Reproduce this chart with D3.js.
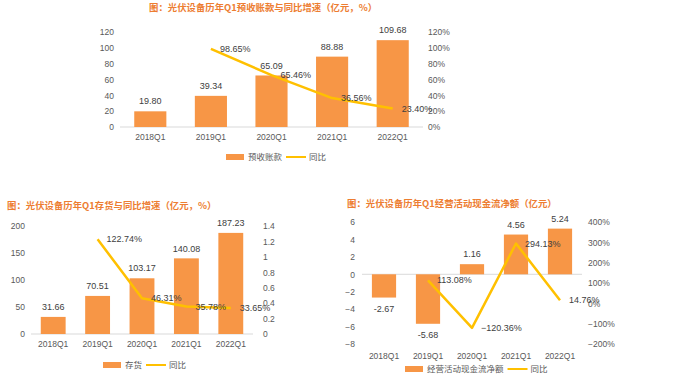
<!DOCTYPE html>
<html>
<head>
<meta charset="utf-8">
<script src="https://cdn.jsdelivr.net/npm/d3@7"></script>
<style>
  body { margin: 0; background: #fff; }
  svg { display: block; }
  text { font-family: "Liberation Sans", "Noto Sans CJK SC", sans-serif; }
</style>
</head>
<body>
<svg id="chart" width="700" height="378"></svg>
<script>
// data
var years = ["2018Q1", "2019Q1", "2020Q1", "2021Q1", "2022Q1"];

var advance = [19.80, 39.34, 65.09, 88.88, 109.68];
var advanceYoy = [null, 0.9865, 0.6546, 0.3656, 0.2340];

var stock = [31.66, 70.51, 103.17, 140.08, 187.23];
var stockYoy = [null, 1.2274, 0.4631, 0.3578, 0.3365];

var cash = [-2.67, -5.68, 1.16, 4.56, 5.24];
var cashYoy = [null, 1.1308, -1.2036, 2.9413, 0.1476];

var advanceTicks = [0, 20, 40, 60, 80, 100, 120];
var advanceYoyTicks = [0, 0.2, 0.4, 0.6, 0.8, 1.0, 1.2];
var stockTicks = [0, 50, 100, 150, 200];
var stockYoyTicks = [0, 0.2, 0.4, 0.6, 0.8, 1.0, 1.2, 1.4];
var cashTicks = [-8, -6, -4, -2, 0, 2, 4, 6];
var cashYoyTicks = [-2, -1, 0, 1, 2, 3, 4];

var titles = [
    "图：光伏设备历年Q1预收账款与同比增速（亿元，%）",
    "图：光伏设备历年Q1存货与同比增速（亿元，%）",
    "图：光伏设备历年Q1经营活动现金流净额（亿元）"
];
var barNames = ["预收账款", "存货", "经营活动现金流净额"];
var lineName = "同比";

var BAR = "#f79646", LINE = "#ffc000", TITLE = "#ed7d31", GREY = "#595959";

var svg = d3.select("#chart");
svg.append("rect").attr("width", 700).attr("height", 378).attr("fill", "#fff");

var pct = d3.format(".2%");

function combo(o){
    var g = svg.append("g");

    var x = d3.scaleBand().domain(years).range([o.x0, o.x1])
        .paddingInner(o.pad).paddingOuter(o.pad / 2);
    var yL = d3.scaleLinear().domain(d3.extent(o.leftTicks)).range([o.y1, o.y0]);
    var yR = d3.scaleLinear().domain(d3.extent(o.rightTicks)).range([o.y1, o.y0]);

    g.append("text")
        .attr("x", o.tx).attr("y", o.ty).attr("dy", "0.35em")
        .attr("fill", TITLE).attr("font-weight", "bold")
        .attr("font-size", 9.4)
        .style("font-family", "'Noto Sans CJK SC', sans-serif")
        .text(o.title);

    var axL = g.append("g").attr("transform", "translate(" + o.x0 + ",0)")
        .call(d3.axisLeft(yL).tickValues(o.leftTicks).tickSize(0).tickPadding(o.lpad));
    var axR = g.append("g").attr("transform", "translate(" + o.x1 + ",0)")
        .call(d3.axisRight(yR).tickValues(o.rightTicks).tickSize(0).tickPadding(o.rpad)
            .tickFormat(o.rightFormat));
    var axB = g.append("g").attr("transform", "translate(0," + o.y1 + ")")
        .call(d3.axisBottom(x).tickSize(0).tickPadding(o.bpad));
    [axL, axR, axB].forEach(function(a){
        a.select(".domain").remove();
        a.selectAll("text").attr("fill", GREY).attr("font-size", 8.5)
            .style("font-family", "'Liberation Sans', sans-serif");
    });

    g.append("line")
        .attr("x1", o.x0).attr("x2", o.x1)
        .attr("y1", yL(0)).attr("y2", yL(0))
        .attr("stroke", "#d9d9d9").attr("stroke-width", 1);

    g.selectAll(".bar").data(o.bars).enter().append("rect")
        .attr("x", function(d, i){ return x(years[i]); })
        .attr("width", x.bandwidth())
        .attr("y", function(d){ return Math.min(yL(d), yL(0)); })
        .attr("height", function(d){ return Math.abs(yL(d) - yL(0)); })
        .attr("fill", BAR);

    g.selectAll(".blab").data(o.bars).enter().append("text")
        .attr("x", function(d, i){ return x(years[i]) + x.bandwidth() / 2; })
        .attr("y", function(d){ return d >= 0 ? yL(d) - 10 : yL(d) + 11; })
        .attr("dy", "0.35em").attr("text-anchor", "middle")
        .attr("font-size", 9).attr("fill", "#404040")
        .text(function(d){ return d.toFixed(2); });

    var pts = o.line.map(function(v, i){ return {v: v, k: years[i]}; })
        .filter(function(d){ return d.v !== null; });
    var cx = function(d){ return x(d.k) + x.bandwidth() / 2; };

    g.append("path").datum(pts)
        .attr("fill", "none").attr("stroke", LINE).attr("stroke-width", 2.5)
        .attr("stroke-linejoin", "round")
        .attr("d", d3.line().x(cx).y(function(d){ return yR(d.v); }));

    g.selectAll(".llab").data(pts).enter().append("text")
        .attr("x", function(d){ return cx(d) + 9; })
        .attr("y", function(d){ return yR(d.v); })
        .attr("dy", "0.35em")
        .attr("font-size", 9).attr("fill", "#404040")
        .text(function(d){ return pct(d.v); });

    // legend
    var lg = g.append("g").attr("transform", "translate(" + o.lx + "," + o.ly + ")");
    lg.append("rect").attr("x", 0).attr("y", -3).attr("width", 18).attr("height", 6).attr("fill", BAR);
    var t1 = lg.append("text").attr("x", 22).attr("dy", "0.35em")
        .attr("font-size", 8.5).attr("fill", GREY).text(o.barName);
    var w = t1.node().getComputedTextLength();
    lg.append("line").attr("x1", 22 + w + 4).attr("x2", 22 + w + 24)
        .attr("stroke", LINE).attr("stroke-width", 2);
    lg.append("text").attr("x", 22 + w + 27).attr("dy", "0.35em")
        .attr("font-size", 8.5).attr("fill", GREY).text(lineName);
}

combo({
    title: titles[0], tx: 149, ty: 8,
    x0: 120, x1: 423, y0: 32, y1: 127, pad: 0.47,
    leftTicks: advanceTicks, rightTicks: advanceYoyTicks,
    rightFormat: d3.format(".0%"), lpad: 6, rpad: 5, bpad: 7,
    bars: advance, line: advanceYoy, barName: barNames[0],
    lx: 226, ly: 157
});

combo({
    title: titles[1], tx: 7, ty: 206,
    x0: 31, x1: 253, y0: 226, y1: 334, pad: 0.44,
    leftTicks: stockTicks, rightTicks: stockYoyTicks,
    rightFormat: function(d){ return d3.format("~g")(d); }, lpad: 6, rpad: 10, bpad: 7,
    bars: stock, line: stockYoy, barName: barNames[1],
    lx: 103, ly: 365
});

combo({
    title: titles[2], tx: 347, ty: 204,
    x0: 362, x1: 582, y0: 222, y1: 344, pad: 0.45,
    leftTicks: cashTicks, rightTicks: cashYoyTicks,
    rightFormat: d3.format(".0%"), lpad: 7, rpad: 6, bpad: 9,
    bars: cash, line: cashYoy, barName: barNames[2],
    lx: 405, ly: 369
});
</script>
</body>
</html>
